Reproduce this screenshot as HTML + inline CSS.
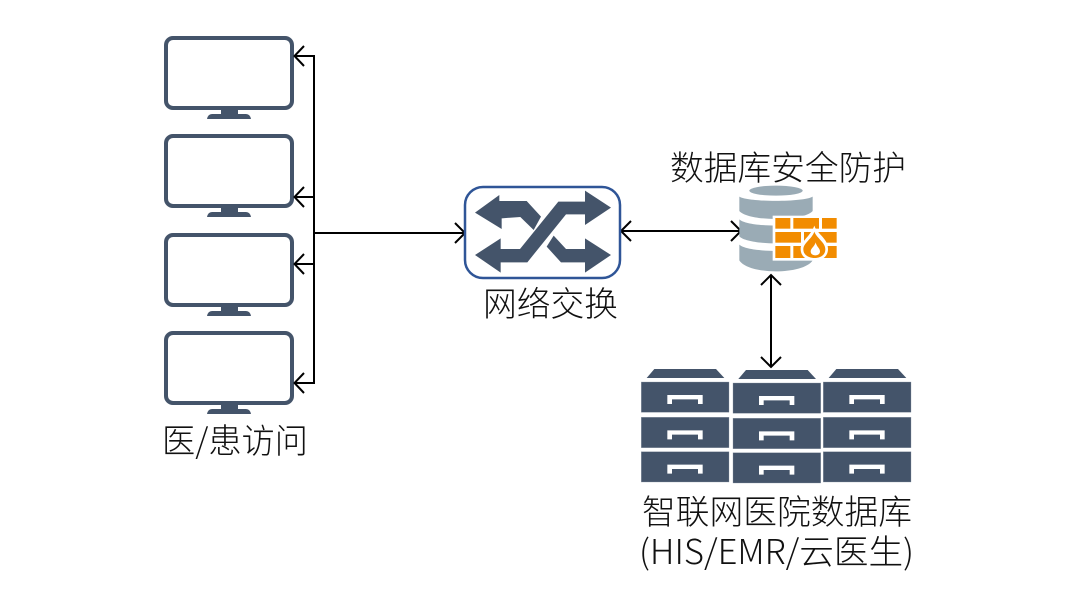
<!DOCTYPE html>
<html>
<head>
<meta charset="utf-8">
<style>
html,body{margin:0;padding:0;background:#fff;width:1080px;height:609px;overflow:hidden}
svg{display:block}
text{font-family:"Noto Sans CJK SC","Liberation Sans",sans-serif;font-size:34px;fill:#111;font-weight:300}
</style>
</head>
<body>
<svg width="1080" height="609" viewBox="0 0 1080 609" xmlns="http://www.w3.org/2000/svg">
<defs>
<g id="mon">
<rect x="166" y="38" width="126" height="70" rx="7" fill="#fff" stroke="#44546a" stroke-width="4"/>
<path d="M221 110H238V114H246Q250 114 251 119H207Q208 114 212 114H221Z" fill="#44546a"/>
</g>
<g id="drawer">
<rect x="0" y="0" width="263" height="91" fill="#44546a" stroke="#8d97a6" stroke-width="1"/>
<path d="M78 39H184V66H170V52H92V66H78Z" fill="#fff"/>
</g>
<g id="col">
<path d="M16 27L39 0H224L249 27Z" fill="#44546a"/>
<use href="#drawer" y="39"/>
<use href="#drawer" y="145"/>
<use href="#drawer" y="248"/>
</g>
</defs>

<use href="#mon"/>
<use href="#mon" y="98"/>
<use href="#mon" y="197"/>
<use href="#mon" y="295"/>

<g fill="none" stroke="#000" stroke-width="2">
<path d="M295 56H314V383H295"/>
<path d="M295 197H314M295 264H314M314 233H464"/>
<path d="M304 46L294.5 56L304 66M304 187L294.5 197L304 207M304 254L294.5 264L304 274M304 373L294.5 383L304 393"/>
<path d="M455 223L465 233L455 243"/>
<path d="M621 231H741"/>
<path d="M631 221L621 231L631 241M731 221L741 231L731 241"/>
<path d="M771 275V367"/>
<path d="M761 285L771 275L781 285M761 357L771 367L781 357"/>
</g>

<rect x="465" y="187" width="155" height="91" rx="18" fill="#fff" stroke="#2f5597" stroke-width="2.5"/>
<g transform="translate(455 175) scale(.33333)" fill="#44546a">
<path d="M60 113L133 60V78H215L258 125L236 165L196 126L140 130V162Z"/>
<path d="M60 240L137 190V222H195L310 80H390V47L468 98L390 150V118H333L217 262H137V293Z"/>
<path d="M296 182L333 222H390V190L468 240L390 293V262H318L275 215Z"/>
</g>

<g transform="translate(720 175) scale(.33333)">
<ellipse cx="168" cy="47" rx="80" ry="15" fill="#9aabb5"/>
<path d="M58 65C85 82 250 82 278 65V108C250 140 85 140 58 108Z" fill="#9aabb5"/>
<path d="M58 133C85 158 250 158 278 133V184C250 212 85 212 58 184Z" fill="#9aabb5"/>
<path d="M58 209C85 234 250 234 278 209V256C250 300 85 300 58 256Z" fill="#9aabb5"/>
<rect x="158" y="122" width="197" height="135" fill="#fff"/>
<g fill="#f28c00">
<rect x="166" y="129" width="45" height="32"/>
<rect x="220" y="129" width="77" height="32"/>
<rect x="306" y="129" width="44" height="32"/>
<rect x="166" y="171" width="77" height="32"/>
<rect x="252" y="171" width="98" height="32"/>
<rect x="166" y="213" width="45" height="36"/>
<rect x="220" y="213" width="77" height="36"/>
<rect x="306" y="213" width="44" height="36"/>
</g>
<path d="M283 152C290 176 324 190 324 222C324 246 304 257 284 257C262 257 242 246 242 222C242 198 272 184 283 152Z" fill="#fff"/>
<path d="M283 170C290 190 316 202 316 223C316 241 300 249 284 249C268 249 250 241 250 223C250 204 276 192 283 170Z" fill="#f28c00"/>
<path d="M287 202C289 214 300 220 300 229C300 237 293 241 286 241C279 241 272 237 272 229C272 220 284 214 287 202Z" fill="#fff"/>
</g>

<g transform="translate(635 360) scale(.33333)">
<use href="#col" x="19" y="27"/>
<use href="#col" x="294" y="30"/>
<use href="#col" x="565" y="27"/>
</g>

<text x="670" y="180" textLength="236" lengthAdjust="spacingAndGlyphs">数据库安全防护</text>
<text x="483" y="316" textLength="135" lengthAdjust="spacingAndGlyphs">网络交换</text>
<text x="162" y="453" textLength="146" lengthAdjust="spacingAndGlyphs">医/患访问</text>
<text x="642" y="524" textLength="270" lengthAdjust="spacingAndGlyphs">智联网医院数据库</text>
<text x="639" y="564" textLength="275" lengthAdjust="spacingAndGlyphs">(HIS/EMR/云医生)</text>
</svg>
</body>
</html>
